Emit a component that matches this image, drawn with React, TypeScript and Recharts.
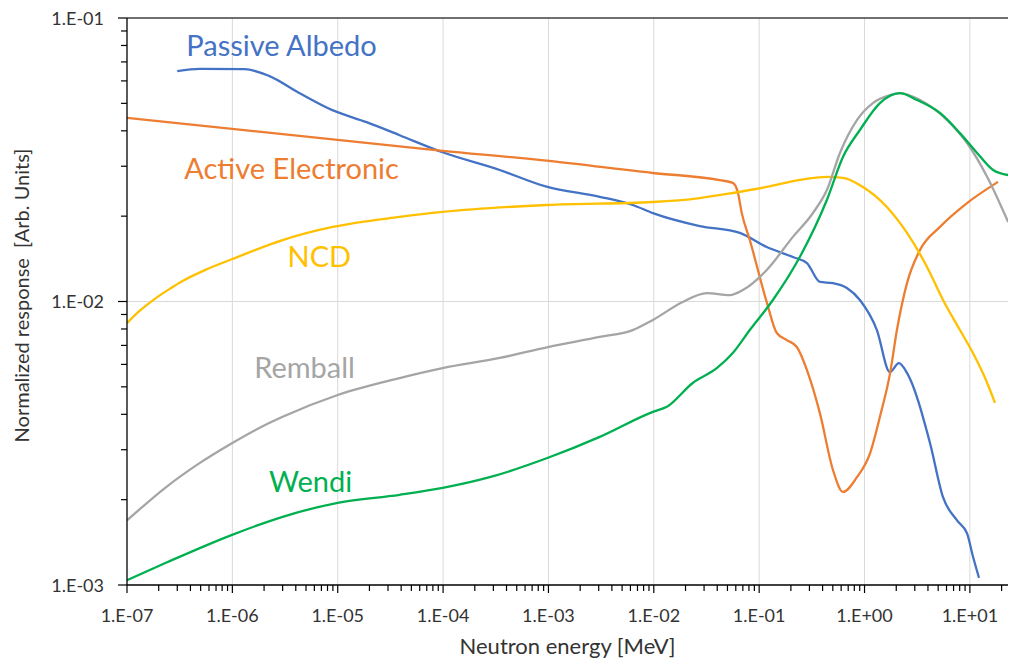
import { LineChart, Line, XAxis, YAxis, ReferenceLine, ReferenceDot } from 'recharts'

const FONT = 'Lato, "Open Sans", sans-serif'

// axis decades
const energyTicks = [1e-7, 1e-6, 1e-5, 1e-4, 1e-3, 1e-2, 1e-1, 1e0, 1e1]
const responseTicks = [1e-3, 1e-2, 1e-1]
const energyMax = 23

// Passive Albedo
const albedoEnergy = [3.0e-7, 4.9e-7, 1.3e-6, 2.25e-6, 4.35e-6, 8.9e-6, 1.88e-5, 3.87e-5, 9.9e-5, 3.45e-4, 9.6e-4, 3.07e-3, 6.3e-3, 9.8e-3, 0.0273, 0.0656, 0.118, 0.209, 0.284, 0.377, 0.501, 0.68, 0.904, 1.31, 1.74, 2.12, 2.53, 4.18, 5.56, 7.55, 9.4, 10.7, 12.2]
const albedoResponse = [0.065, 0.0661, 0.066, 0.0624, 0.0543, 0.0473, 0.0429, 0.0386, 0.0336, 0.0291, 0.0254, 0.0234, 0.0219, 0.0205, 0.01846, 0.01745, 0.01556, 0.01435, 0.01367, 0.01172, 0.01161, 0.01116, 0.01012, 0.00793, 0.00563, 0.00606, 0.0056, 0.00317, 0.00204, 0.00169, 0.00152, 0.00126, 0.00106]

// Active Electronic
const activeEnergy = [1e-7, 9.9e-5, 9.6e-4, 9.8e-3, 0.0423, 0.0562, 0.0627, 0.0684, 0.0815, 0.118, 0.147, 0.183, 0.228, 0.284, 0.377, 0.501, 0.624, 0.847, 1.13, 1.4, 1.75, 2.03, 2.53, 3.36, 5.2, 9.4, 18.5]
const activeResponse = [0.0444, 0.034, 0.0314, 0.0284, 0.0268, 0.0262, 0.0243, 0.0205, 0.01648, 0.00995, 0.00774, 0.00731, 0.00691, 0.00573, 0.00404, 0.00255, 0.00213, 0.0024, 0.00292, 0.00392, 0.0056, 0.00793, 0.01161, 0.0152, 0.01833, 0.02224, 0.02642]

// NCD
const ncdEnergy = [1e-7, 1.315e-7, 1.824e-7, 2.535e-7, 3.37e-7, 5.8e-7, 1.0e-6, 3.0e-6, 8.95e-6, 3.87e-5, 9.9e-5, 9.6e-4, 9.8e-3, 0.0273, 0.0562, 0.118, 0.243, 0.439, 0.624, 0.966, 1.63, 2.53, 3.92, 5.56, 8.05, 10.7, 14.6, 17.3]
const ncdResponse = [0.00839, 0.00926, 0.0102, 0.01107, 0.01181, 0.01302, 0.01412, 0.01647, 0.01832, 0.01987, 0.0207, 0.0219, 0.02244, 0.02317, 0.02414, 0.02535, 0.02685, 0.0275, 0.0273, 0.02535, 0.02155, 0.01745, 0.01324, 0.01012, 0.00793, 0.00658, 0.00516, 0.00439]

// Remball
const remballEnergy = [1e-7, 2.37e-7, 4.88e-7, 1.0e-6, 1.8e-6, 3.0e-6, 1.0e-5, 3.87e-5, 9.9e-5, 3.45e-4, 9.9e-4, 3.07e-3, 6.3e-3, 9.8e-3, 0.0188, 0.0318, 0.0527, 0.07, 0.118, 0.209, 0.324, 0.439, 0.584, 0.847, 1.2, 1.75, 2.17, 3.36, 6.07, 9.4, 14.6, 23.1]
const remballResponse = [0.00169, 0.00222, 0.00269, 0.00317, 0.00358, 0.00392, 0.00468, 0.00537, 0.00582, 0.00632, 0.00691, 0.0075, 0.00793, 0.00861, 0.00996, 0.01071, 0.01054, 0.01098, 0.01292, 0.0169, 0.02052, 0.02472, 0.03341, 0.04365, 0.05012, 0.05346, 0.05433, 0.05137, 0.04365, 0.03622, 0.0275, 0.01905]

// Wendi
const wendiEnergy = [1e-7, 2.37e-7, 9.8e-7, 3.0e-6, 1.0e-5, 3.87e-5, 9.9e-5, 2.77e-4, 9.9e-4, 3.07e-3, 9.8e-3, 0.0133, 0.0234, 0.0396, 0.0562, 0.0815, 0.135, 0.243, 0.439, 0.624, 0.904, 1.4, 2.17, 3.15, 5.2, 8.05, 11.7, 16.6, 23.1]
const wendiResponse = [0.00104, 0.0012, 0.0015, 0.00174, 0.00195, 0.00208, 0.0022, 0.0024, 0.00281, 0.00333, 0.00408, 0.00425, 0.00516, 0.00582, 0.00658, 0.00793, 0.01012, 0.01435, 0.0228, 0.03235, 0.04027, 0.05012, 0.05433, 0.05137, 0.04624, 0.03926, 0.03341, 0.0291, 0.02793]

// series name, colour, label anchor (energy, response)
const series = [
  { name: 'Passive Albedo', color: '#4472C4', energy: albedoEnergy, response: albedoResponse, labelAt: [2.93e-6, 0.0796] },
  { name: 'Active Electronic', color: '#ED7D31', energy: activeEnergy, response: activeResponse, labelAt: [3.65e-6, 0.0293] },
  { name: 'NCD', color: '#FFC000', energy: ncdEnergy, response: ncdResponse, labelAt: [6.7e-6, 0.01435] },
  { name: 'Remball', color: '#A5A5A5', energy: remballEnergy, response: remballResponse, labelAt: [4.85e-6, 0.00582] },
  { name: 'Wendi', color: '#00B050', energy: wendiEnergy, response: wendiResponse, labelAt: [5.53e-6, 0.00231] },
]

const isDecade = (v: number) => Math.abs(Math.log10(v) - Math.round(Math.log10(v))) < 1e-6

const sci = (v: number) => {
  const e = Math.round(Math.log10(v))
  return `1.E${e < 0 ? '-' : '+'}${String(Math.abs(e)).padStart(2, '0')}`
}

// 2..9 minor steps in each decade
const withMinors = (majors: number[], max: number) => {
  const out: number[] = []
  majors.forEach((d) => {
    for (let k = 1; k <= 9; k++) if (d * k <= max) out.push(d * k)
  })
  return out
}

const energyAllTicks = withMinors(energyTicks, energyMax)
const responseAllTicks = withMinors(responseTicks.slice(0, -1), 0.1).concat([0.1])

function EnergyTick({ x, y, payload }: any) {
  const major = isDecade(payload.value)
  return (
    <g>
      <line x1={x} y1={y} x2={x} y2={y + (major ? 8 : 6)} stroke="#000" strokeWidth={1.2} />
      {major && (
        <text x={x} y={y + 37} textAnchor="middle" fontSize={18} fontFamily={FONT} fill="#333">
          {sci(payload.value)}
        </text>
      )}
    </g>
  )
}

function ResponseTick({ x, y, payload }: any) {
  const major = isDecade(payload.value)
  return (
    <g>
      <line x1={x} y1={y} x2={x - (major ? 9 : 6)} y2={y} stroke="#000" strokeWidth={1.2} />
      {major && (
        <text x={x - 23} y={y + 6.5} textAnchor="end" fontSize={18} fontFamily={FONT} fill="#333">
          {sci(payload.value)}
        </text>
      )}
    </g>
  )
}

function ResponseTitle({ viewBox }: any) {
  const cx = viewBox.x + 21
  const cy = viewBox.y + viewBox.height / 2 - 6
  return (
    <text
      x={cx}
      y={cy}
      transform={`rotate(-90 ${cx} ${cy})`}
      textAnchor="middle"
      dominantBaseline="central"
      fontSize={20}
      fontFamily={FONT}
      fill="#333"
      style={{ whiteSpace: 'pre' }}
    >
      {'Normalized response  [Arb. Units]'}
    </text>
  )
}

export default function App() {
  return (
    <div style={{ position: 'absolute', left: 0, top: 0, width: 1010, height: 660, background: '#fff' }}>
      <LineChart width={1010} height={660} margin={{ top: 18, right: 2, bottom: 0, left: 0 }}>
        <XAxis
          dataKey="e"
          type="number"
          scale="log"
          domain={[1e-7, energyMax]}
          allowDataOverflow
          ticks={energyAllTicks}
          interval={0}
          tick={<EnergyTick />}
          tickLine={false}
          tickSize={0}
          tickMargin={0}
          height={75}
          axisLine={{ stroke: '#000', strokeWidth: 1.3 }}
          label={{
            value: 'Neutron energy [MeV]',
            position: 'insideBottom',
            offset: 6,
            fontSize: 22,
            fontFamily: FONT,
            fill: '#333',
          }}
        />
        <YAxis
          dataKey="r"
          type="number"
          scale="log"
          domain={[1e-3, 1e-1]}
          allowDataOverflow
          ticks={responseAllTicks}
          interval={0}
          tick={<ResponseTick />}
          tickLine={false}
          tickSize={0}
          tickMargin={0}
          width={127}
          axisLine={{ stroke: '#000', strokeWidth: 1.3 }}
          label={{ content: <ResponseTitle /> }}
        />
        {energyTicks.slice(1).map((v) => (
          <ReferenceLine key={`gx${v}`} x={v} stroke="#d9d9d9" strokeWidth={1} />
        ))}
        <ReferenceLine y={1e-2} stroke="#d9d9d9" strokeWidth={1} />
        <ReferenceLine y={1e-1} stroke="#404040" strokeWidth={1.5} />
        {series.map((s) => (
          <Line
            key={s.name}
            data={s.energy.map((e, i) => ({ e, r: s.response[i] }))}
            dataKey="r"
            type="monotone"
            stroke={s.color}
            strokeWidth={2.3}
            dot={false}
            isAnimationActive={false}
          />
        ))}
        {series.map((s) => (
          <ReferenceDot
            key={`lbl${s.name}`}
            x={s.labelAt[0]}
            y={s.labelAt[1]}
            r={0}
            fill="none"
            stroke="none"
            label={{ value: s.name, position: 'center', fill: s.color, fontSize: 29, fontFamily: FONT }}
          />
        ))}
      </LineChart>
    </div>
  )
}
